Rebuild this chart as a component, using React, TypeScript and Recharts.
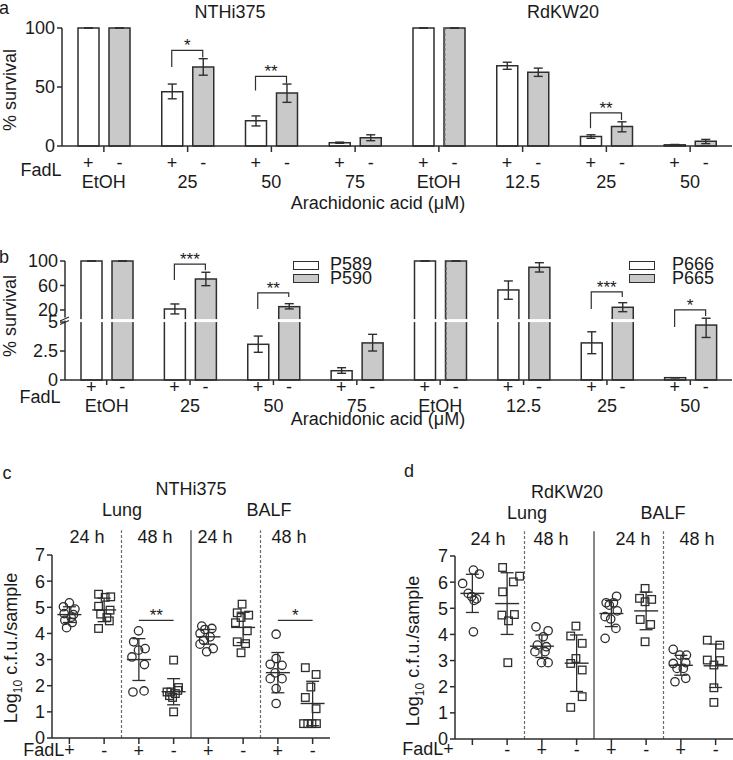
import React from "react";
import {
  ComposedChart,
  ScatterChart,
  Bar,
  Scatter,
  XAxis,
  YAxis,
  ErrorBar,
  ReferenceLine,
} from "recharts";

const FONT = '"Liberation Sans", Arial, Helvetica, sans-serif';
const INK = "#2e2e2e";
const TEXT = "#1a1a1a";
const FILL_NEG = "#c9c9c9";
const DIV = "#6a6a6a";

const BAR = 21;
const BAR_GAP = 10;
const HALF = (BAR + BAR_GAP) / 2;

// ---- panels a / b: shared categories (NTHi375 groups 0-3, RdKW20 groups 4-7)
const doses = ["EtOH", "25", "50", "75", "EtOH", "12.5", "25", "50"];

// a: % survival, mean and [low, high] of the error bar
const aFadLPos = [100, 46, 21.5, 2.8, 100, 68, 8, 1];
const aFadLPosRange = [[100, 100], [40, 52.5], [17, 25.5], [2.3, 3.3], [100, 100], [65, 71], [6.5, 9.5], [0.7, 1.3]];
const aFadLNeg = [100, 67, 45, 7, 100, 62.5, 16.5, 4];
const aFadLNegRange = [[100, 100], [60, 74], [37, 52.5], [4.5, 9.5], [100, 100], [59, 66], [12, 20.5], [2, 5.6]];
// [group, bracket top, left leg end, right leg end, stars]
const aSig: any[] = [[1, 81, 67, 75, "*"], [2, 59, 47, 53, "**"], [6, 28, 15, 22, "**"]];
const aTicks = [0, 50, 100];

// b: same layout, broken y axis
const bFadLPos = [100, 21.6, 3.08, 0.8, 100, 52.7, 3.2, 0.2];
const bFadLPosRange = [[100, 100], [13.5, 29.8], [2.39, 3.79], [0.58, 1.06], [100, 100], [37.5, 67.4], [2.27, 4.16], [0.2, 0.2]];
const bFadLNeg = [100, 70.6, 25.4, 3.2, 100, 89.7, 24.4, 4.74];
const bFadLNegRange = [[100, 100], [59.7, 81.6], [21.7, 30.3], [2.5, 3.94], [100, 100], [82, 97.2], [17.2, 31.9], [3.67, 6.5]];
const bSig: any[] = [[1, 95, 69, 85, "***"], [2, 47.8, 21.7, 41.3, "**"], [6, 49.4, 21.7, 41.3, "***"], [7, 20, 4.57, 10.2, "*"]];
const bTicks = [0, 2.5, 5, 20, 60, 100];
const bLegendLeft = ["P589", "P590"];
const bLegendRight = ["P666", "P665"];

// 0-5 drawn linear, then a small gap, then 5-100 compressed
const BREAK = 5;
const BREAK_GAP = 0.25;
const UPPER_K = 0.0528;
const brk = (v: number) => (v <= BREAK ? v : BREAK + BREAK_GAP + (v - BREAK) * UPPER_K);
const ident = (v: number) => v;
const BREAK_MID = BREAK + BREAK_GAP / 2;

// ---- panels c / d: log10 cfu, points as [jitter, value]
const cLung24Pos = [[0, 5.17], [-0.17, 5.02], [0.16, 4.93], [-0.15, 4.76], [0.12, 4.72], [0.05, 4.62], [-0.13, 4.5], [0.08, 4.42], [-0.08, 4.22]];
const cLung24Neg = [[-0.16, 5.5], [0.03, 5.38], [0.19, 5.4], [-0.16, 5.04], [0.17, 4.89], [-0.1, 4.74], [0.08, 4.61], [0.15, 4.48], [-0.16, 4.19]];
const cLung48Pos = [[-0.01, 4.1], [-0.15, 3.68], [0.18, 3.42], [-0.01, 3.36], [-0.2, 3.1], [0.16, 2.81], [-0.17, 1.76], [0.15, 1.8]];
const cLung48Neg = [[0, 2.98], [0.14, 1.93], [-0.19, 1.76], [-0.08, 1.76], [0.05, 1.7], [0.12, 1.82], [-0.12, 1.62], [-0.03, 1.55], [0, 1.0]];
const cBalf24Pos = [[-0.19, 4.28], [0.1, 4.19], [-0.1, 4.15], [-0.24, 4.0], [0.05, 3.87], [-0.14, 3.74], [-0.24, 3.59], [0.14, 3.42], [-0.05, 3.3]];
const cBalf24Neg = [[-0.03, 5.12], [-0.17, 4.79], [0.16, 4.7], [-0.06, 4.61], [-0.22, 4.41], [0.12, 4.1], [-0.17, 3.68], [0.07, 3.61], [-0.06, 3.26]];
const cBalf48Pos = [[-0.05, 3.97], [-0.05, 3.04], [-0.22, 2.82], [0.12, 2.78], [-0.08, 2.49], [-0.22, 2.27], [0.12, 2.27], [-0.05, 1.89], [-0.05, 1.32]];
const cBalf48Neg = [[-0.21, 2.69], [0.1, 2.43], [-0.05, 1.95], [-0.21, 1.55], [0.1, 1.12], [-0.26, 0.55], [-0.14, 0.55], [-0.02, 0.55], [0.11, 0.55]];
const cMean = [4.72, 4.9, 3.0, 1.77, 3.87, 4.23, 2.5, 1.32];
const cSd = [0.3, 0.45, 0.8, 0.5, 0.28, 0.58, 0.77, 0.85];
const cSig: any[] = [[2, 3, 4.5, "**"], [6, 7, 4.5, "*"]];

const dLung24Pos = [[0.03, 6.46], [0.2, 6.31], [-0.28, 5.95], [-0.12, 5.57], [-0.02, 5.45], [0.12, 5.36], [0.05, 5.3], [0.03, 4.1]];
const dLung24Neg = [[-0.13, 6.56], [0.36, 6.23], [0.18, 6.01], [-0.13, 5.63], [-0.15, 4.74], [0.21, 4.76], [0.04, 4.52], [0.02, 2.92]];
const dLung48Pos = [[-0.17, 4.29], [0.18, 4.14], [0.04, 3.91], [-0.13, 3.59], [0.13, 3.53], [-0.2, 3.34], [0.09, 3.34], [-0.01, 2.92], [0.18, 2.92]];
const dLung48Neg = [[-0.02, 4.32], [-0.17, 3.94], [0.16, 3.66], [-0.02, 3.08], [-0.17, 2.89], [0.16, 2.64], [0.16, 1.62], [-0.17, 1.21]];
const dBalf24Pos = [[0.15, 5.46], [-0.15, 5.21], [0.06, 5.21], [-0.06, 5.12], [0.17, 4.9], [-0.18, 4.68], [-0.02, 4.59], [0.13, 4.23], [-0.18, 3.85]];
const dBalf24Neg = [[-0.03, 5.76], [-0.19, 5.38], [0.16, 5.34], [-0.03, 5.25], [-0.17, 4.57], [0.13, 4.38], [-0.03, 3.72]];
const dBalf48Pos = [[-0.22, 3.43], [-0.03, 3.21], [0.16, 3.21], [-0.22, 2.89], [0.14, 2.92], [-0.11, 2.7], [0.07, 2.7], [-0.17, 2.19], [0.14, 2.32]];
const dBalf48Neg = [[-0.24, 3.78], [0.12, 3.59], [-0.24, 3.02], [0.12, 3.0], [-0.05, 2.83], [-0.05, 1.96], [-0.05, 1.4]];
const dMean = [5.57, 5.18, 3.55, 2.9, 4.8, 4.9, 2.82, 2.8];
const dSd = [0.73, 1.18, 0.43, 1.08, 0.5, 0.72, 0.38, 0.83];

const cGroups = [cLung24Pos, cLung24Neg, cLung48Pos, cLung48Neg, cBalf24Pos, cBalf24Neg, cBalf48Pos, cBalf48Neg];
const dGroups = [dLung24Pos, dLung24Neg, dLung48Pos, dLung48Neg, dBalf24Pos, dBalf24Neg, dBalf48Pos, dBalf48Neg];
const logTicks = [0, 1, 2, 3, 4, 5, 6, 7];
// first "+" sits in the "FadL+" text
const signs = ["", "-", "+", "-", "+", "-", "+", "-"];

function buildRows(pos: number[], posR: number[][], neg: number[], negR: number[][], sig: any[], t: (v: number) => number) {
  return doses.map((_, i) => {
    const s = sig.find((r) => r[0] === i);
    return {
      key: `g${i}`,
      pos: t(pos[i]),
      posErr: [t(pos[i]) - t(posR[i][0]), t(posR[i][1]) - t(pos[i])],
      neg: t(neg[i]),
      negErr: [t(neg[i]) - t(negR[i][0]), t(negR[i][1]) - t(neg[i])],
      sig: s ? [t(s[2]), t(s[1])] : null,
      sigInfo: s ? { top: t(s[1]), left: t(s[2]), right: t(s[3]), label: s[4] } : null,
    };
  });
}

const rowsA = buildRows(aFadLPos, aFadLPosRange, aFadLNeg, aFadLNegRange, aSig, ident);
const rowsB = buildRows(bFadLPos, bFadLPosRange, bFadLNeg, bFadLNegRange, bSig, brk);

function Txt({ x, y, children, size = 18, rotate = false, left = false }: any) {
  return (
    <div
      style={{
        position: "absolute",
        left: x,
        top: y,
        transform: left
          ? "translate(0, -50%)"
          : `translate(-50%, -50%)${rotate ? " rotate(-90deg)" : ""}`,
        fontSize: size,
        lineHeight: 1,
        whiteSpace: "nowrap",
      }}
    >
      {children}
    </div>
  );
}

// bracket drawn from the + bar centre to the - bar centre
function Bracket(props: any) {
  const { x, y, width, height, payload } = props;
  const s = payload && payload.sigInfo;
  if (!s || !(height > 0)) return <g />;
  const ppu = height / (s.top - s.left);
  const yRight = y + (s.top - s.right) * ppu;
  return (
    <g>
      <path
        d={`M${x},${y + height}V${y}H${x + width}V${yRight}`}
        fill="none"
        stroke={INK}
        strokeWidth={1.2}
      />
      <text x={x + width / 2} y={y + 1} textAnchor="middle" fontSize={17} fill={TEXT} fontFamily={FONT}>
        {s.label}
      </text>
    </g>
  );
}

// bar with the white axis-break gap cut through it (panel b)
const brokenBar = (key: string) => (p: any) => {
  const { x, y, width, height, fill, stroke, strokeWidth, payload } = p;
  const v = payload[key];
  const rect = <rect x={x} y={y} width={width} height={height} fill={fill} stroke={stroke} strokeWidth={strokeWidth} />;
  if (!(v > BREAK + BREAK_GAP) || !(height > 0)) return rect;
  const yb = y + height - BREAK_MID * (height / v);
  return (
    <g>
      {rect}
      <line x1={x - 1.5} x2={x + width + 1.5} y1={yb} y2={yb} stroke="#ffffff" strokeWidth={3} />
    </g>
  );
};

const groupTick = (pmDy: number, doseDy: number) => (p: any) => {
  const i = Number(String(p.payload.value).slice(1));
  const common = { textAnchor: "middle" as const, fontSize: 18, fill: TEXT, fontFamily: FONT };
  return (
    <g>
      <text x={p.x - HALF} y={p.y} dy={pmDy} {...common}>+</text>
      <text x={p.x + HALF} y={p.y} dy={pmDy} {...common}>-</text>
      <text x={p.x} y={p.y} dy={doseDy} {...common}>{doses[i]}</text>
    </g>
  );
};

function BreakTick(p: any) {
  const lab = bTicks.find((v) => Math.abs(brk(v) - p.payload.value) < 1e-6);
  const ax = p.x + 7;
  return (
    <g>
      <text x={p.x} y={p.y} dy="0.355em" textAnchor="end" fontSize={18} fill={TEXT} fontFamily={FONT}>
        {lab}
      </text>
      {lab === BREAK && (
        <g>
          <rect x={ax - 2} y={p.y - 4.5} width={4} height={3} fill="#ffffff" />
          <path
            d={`M${ax - 5},${p.y - 1}l9,-4M${ax - 5},${p.y + 2.5}l9,-4`}
            stroke={INK}
            strokeWidth={1.2}
          />
        </g>
      )}
    </g>
  );
}

function BarPanel({ rows, height, margin, yDomain, yTicks, yTick, xTick, tickSize, broken }: any) {
  const axisStyle = { stroke: INK, strokeWidth: 1.5 };
  return (
    <ComposedChart width={733} height={height} data={rows} margin={margin} barGap={BAR_GAP}>
      <XAxis
        dataKey="key"
        axisLine={axisStyle}
        tickLine={axisStyle}
        tickSize={tickSize}
        tick={xTick}
        interval={0}
        height={40}
      />
      <XAxis xAxisId="br" dataKey="key" hide />
      <XAxis xAxisId="num" type="number" domain={[0, 8]} hide />
      <YAxis
        type="number"
        domain={yDomain}
        ticks={yTicks}
        interval={0}
        width={50}
        axisLine={axisStyle}
        tickLine={axisStyle}
        tickSize={5}
        tick={yTick}
      />
      <Bar
        dataKey="pos"
        fill="#ffffff"
        stroke={INK}
        strokeWidth={1.5}
        barSize={BAR}
        shape={broken ? brokenBar("pos") : undefined}
        isAnimationActive={false}
      >
        <ErrorBar dataKey="posErr" width={4.5} stroke={INK} strokeWidth={1.4} />
      </Bar>
      <Bar
        dataKey="neg"
        fill={FILL_NEG}
        stroke={INK}
        strokeWidth={1.5}
        barSize={BAR}
        shape={broken ? brokenBar("neg") : undefined}
        isAnimationActive={false}
      >
        <ErrorBar dataKey="negErr" width={4.5} stroke={INK} strokeWidth={1.4} />
      </Bar>
      <Bar
        xAxisId="br"
        dataKey="sig"
        barSize={BAR + BAR_GAP}
        shape={<Bracket />}
        isAnimationActive={false}
      />
      <ReferenceLine xAxisId="num" x={4} stroke={DIV} strokeWidth={1.2} strokeDasharray="3 2" />
    </ComposedChart>
  );
}

const CircleMark = (p: any) => (
  <circle cx={p.cx} cy={p.cy} r={4.2} fill="none" stroke={INK} strokeWidth={1.3} />
);
const SquareMark = (p: any) => (
  <rect x={p.cx - 3.8} y={p.cy - 3.8} width={7.6} height={7.6} fill="none" stroke={INK} strokeWidth={1.3} />
);
const MeanMark = (p: any) => (
  <line x1={p.cx - 12} x2={p.cx + 12} y1={p.cy} y2={p.cy} stroke={INK} strokeWidth={1.4} />
);

function StarLabel({ viewBox, text }: any) {
  if (!viewBox) return null;
  return (
    <text x={viewBox.x + viewBox.width / 2} y={viewBox.y + 1} textAnchor="middle" fontSize={17} fill={TEXT} fontFamily={FONT}>
      {text}
    </text>
  );
}

function DotPanel({ groups, means, sds, sig, width, margin, pmDy }: any) {
  const circles: any[] = [];
  const squares: any[] = [];
  groups.forEach((g: number[][], gi: number) =>
    g.forEach(([j, v]) => (gi % 2 === 0 ? circles : squares).push({ x: gi + 0.5 + j, y: v }))
  );
  const meanRows = means.map((m: number, i: number) => ({ x: i + 0.5, y: m, sd: sds[i] }));
  const axisStyle = { stroke: INK, strokeWidth: 1.5 };
  const xTicks = signs.map((_, i) => i + 0.5);
  return (
    <ScatterChart width={width} height={240} margin={margin}>
      <XAxis
        type="number"
        dataKey="x"
        domain={[0, 8]}
        ticks={xTicks}
        interval={0}
        allowDataOverflow
        height={20}
        axisLine={axisStyle}
        tickLine={axisStyle}
        tickSize={6}
        tick={(p: any) => (
          <text x={p.x} y={p.y} dy={pmDy} textAnchor="middle" fontSize={18} fill={TEXT} fontFamily={FONT}>
            {signs[xTicks.indexOf(p.payload.value)]}
          </text>
        )}
      />
      <YAxis
        type="number"
        dataKey="y"
        domain={[0, 7]}
        ticks={logTicks}
        interval={0}
        allowDataOverflow
        width={45}
        axisLine={axisStyle}
        tickLine={axisStyle}
        tickSize={5}
        tick={{ fontSize: 18, fill: TEXT, fontFamily: FONT }}
      />
      {[2, 4, 6].map((b) => (
        <ReferenceLine
          key={b}
          segment={[{ x: b, y: 0 }, { x: b, y: 7.95 }]}
          ifOverflow="visible"
          stroke={DIV}
          strokeWidth={b === 4 ? 1.6 : 1.2}
          strokeDasharray={b === 4 ? undefined : "3 2"}
        />
      ))}
      {sig.map((s: any[]) => (
        <ReferenceLine
          key={s[0]}
          segment={[{ x: s[0] + 0.5, y: s[2] }, { x: s[1] + 0.5, y: s[2] }]}
          stroke={INK}
          strokeWidth={1.2}
          label={<StarLabel text={s[3]} />}
        />
      ))}
      <Scatter data={circles} shape={CircleMark} isAnimationActive={false} />
      <Scatter data={squares} shape={SquareMark} isAnimationActive={false} />
      <Scatter data={meanRows} shape={MeanMark} isAnimationActive={false}>
        <ErrorBar dataKey="sd" direction="y" width={6.5} stroke={INK} strokeWidth={1.3} />
      </Scatter>
    </ScatterChart>
  );
}

function LegendBox({ x, y, fill }: any) {
  return (
    <div
      style={{
        position: "absolute",
        left: x,
        top: y,
        width: 24,
        height: 7,
        border: `1.5px solid ${INK}`,
        background: fill,
      }}
    />
  );
}

function LogLabel() {
  return (
    <span>
      Log<sub style={{ fontSize: 12 }}>10</sub> c.f.u./sample
    </span>
  );
}

export default function App() {
  return (
    <div
      style={{
        position: "absolute",
        left: 0,
        top: 0,
        width: 733,
        height: 760,
        background: "#fff",
        fontFamily: FONT,
        color: TEXT,
        overflow: "hidden",
      }}
    >
      {/* a */}
      <div style={{ position: "absolute", left: 0, top: 0 }}>
        <BarPanel
          rows={rowsA}
          height={215}
          margin={{ top: 28, right: 1, bottom: 29, left: 12 }}
          yDomain={[0, 100]}
          yTicks={aTicks}
          yTick={{ fontSize: 18, fill: TEXT, fontFamily: FONT }}
          xTick={groupTick(15, 33.5)}
          tickSize={6}
        />
      </div>
      <Txt x={4} y={8}>a</Txt>
      <Txt x={230} y={12}>NTHi375</Txt>
      <Txt x={563} y={12}>RdKW20</Txt>
      <Txt x={41} y={170}>FadL</Txt>
      <Txt x={378} y={203}>Arachidonic acid (μM)</Txt>
      <Txt x={10} y={90} rotate>% survival</Txt>

      {/* b */}
      <div style={{ position: "absolute", left: 0, top: 230 }}>
        <BarPanel
          rows={rowsB}
          height={200}
          margin={{ top: 31, right: 1, bottom: 10, left: 15 }}
          yDomain={[0, brk(100)]}
          yTicks={bTicks.map(brk)}
          yTick={<BreakTick />}
          xTick={groupTick(6, 25)}
          tickSize={5}
          broken
        />
      </div>
      <Txt x={4} y={257}>b</Txt>
      <Txt x={40} y={397}>FadL</Txt>
      <Txt x={378} y={419}>Arachidonic acid (μM)</Txt>
      <Txt x={10} y={316} rotate>% survival</Txt>
      <LegendBox x={293} y={261} fill="#fff" />
      <LegendBox x={293} y={274} fill={FILL_NEG} />
      <Txt x={330} y={264} left>{bLegendLeft[0]}</Txt>
      <Txt x={330} y={278} left>{bLegendLeft[1]}</Txt>
      <LegendBox x={629} y={261} fill="#fff" />
      <LegendBox x={629} y={274} fill={FILL_NEG} />
      <Txt x={672} y={264} left>{bLegendRight[0]}</Txt>
      <Txt x={672} y={278} left>{bLegendRight[1]}</Txt>

      {/* c */}
      <div style={{ position: "absolute", left: 0, top: 520 }}>
        <DotPanel
          groups={cGroups}
          means={cMean}
          sds={cSd}
          sig={cSig}
          width={345}
          margin={{ top: 35, right: 15, bottom: 2, left: 7 }}
          pmDy={11}
        />
      </div>
      <Txt x={7} y={473}>c</Txt>
      <Txt x={191} y={489}>NTHi375</Txt>
      <Txt x={122} y={510}>Lung</Txt>
      <Txt x={269} y={510}>BALF</Txt>
      <Txt x={87} y={537}>24 h</Txt>
      <Txt x={155} y={537}>48 h</Txt>
      <Txt x={215} y={537}>24 h</Txt>
      <Txt x={289} y={537}>48 h</Txt>
      <Txt x={49} y={750}>FadL+</Txt>
      <Txt x={13} y={648} rotate><LogLabel /></Txt>

      {/* d */}
      <div style={{ position: "absolute", left: 400, top: 520 }}>
        <DotPanel
          groups={dGroups}
          means={dMean}
          sds={dSd}
          sig={[]}
          width={333}
          margin={{ top: 36, right: 0, bottom: 1, left: 10 }}
          pmDy={9}
        />
      </div>
      <Txt x={409} y={471}>d</Txt>
      <Txt x={567} y={492}>RdKW20</Txt>
      <Txt x={527} y={513}>Lung</Txt>
      <Txt x={663} y={513}>BALF</Txt>
      <Txt x={488} y={539}>24 h</Txt>
      <Txt x={551} y={539}>48 h</Txt>
      <Txt x={633} y={539}>24 h</Txt>
      <Txt x={697} y={539}>48 h</Txt>
      <Txt x={428} y={749}>FadL+</Txt>
      <Txt x={415} y={651} rotate><LogLabel /></Txt>
    </div>
  );
}
